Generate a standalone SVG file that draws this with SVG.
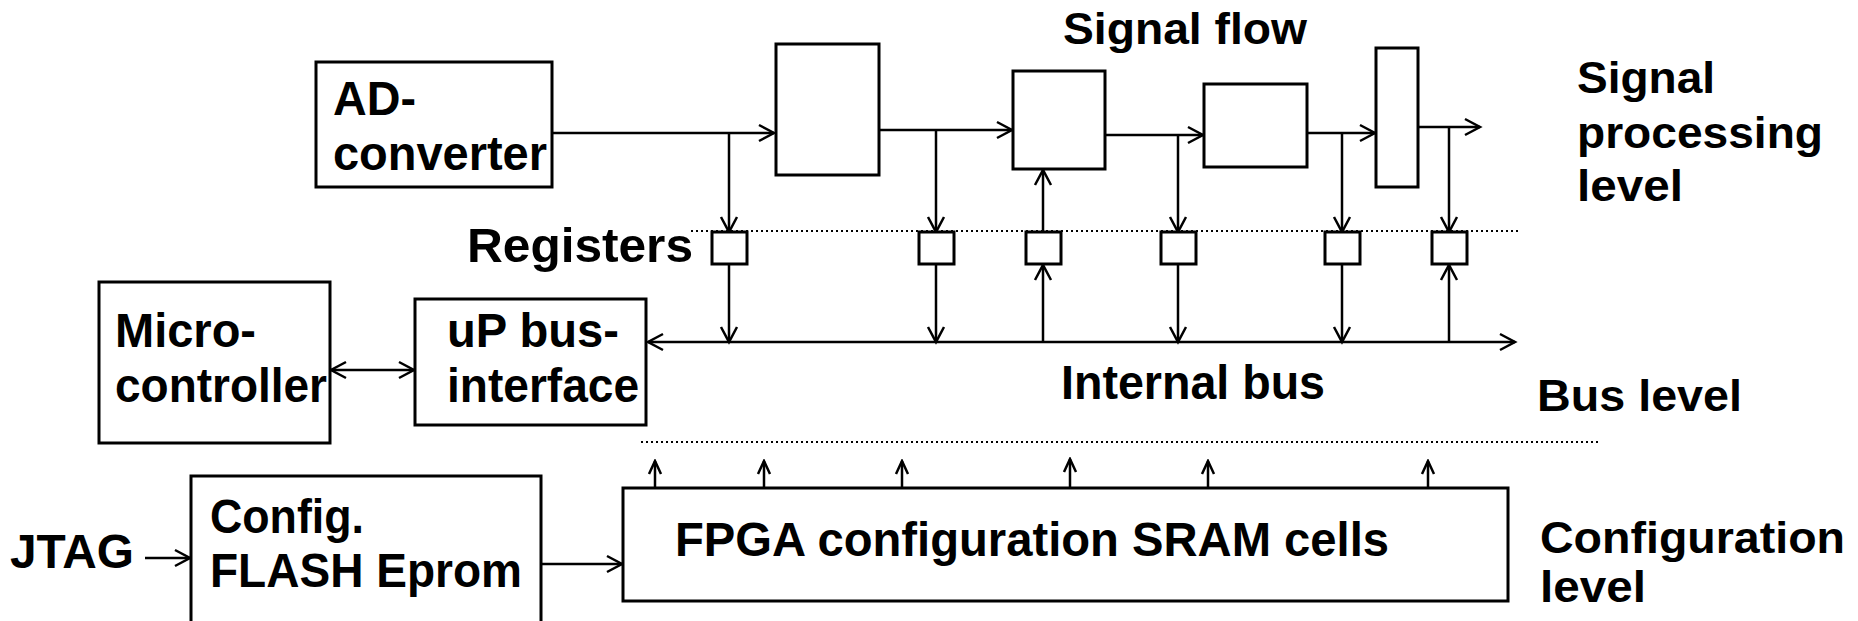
<svg xmlns="http://www.w3.org/2000/svg" width="1858" height="621" viewBox="0 0 1858 621">
  <style>
    .box { fill: #fff; stroke: #000; stroke-width: 3; }
    .reg { fill: #fff; stroke: #000; stroke-width: 3; }
    .lbl { font-family: "Liberation Sans", Arial, Helvetica, sans-serif; font-weight: bold; font-size: 45px; fill: #000; }
    .tall { font-size: 48px; }
    .wire { fill: none; stroke: #000; stroke-width: 2.5; }
    .arrow { fill: none; stroke: #000; stroke-width: 2.5; marker-end: url(#head); }
    .both { fill: none; stroke: #000; stroke-width: 2.5; marker-start: url(#head); marker-end: url(#head); }
    .up { fill: none; stroke: #000; stroke-width: 2.5; marker-end: url(#headSmall); }
    .dots { fill: none; stroke: #000; stroke-width: 2; stroke-dasharray: 2 3; }
  </style>
  <defs>
    <marker id="head" viewBox="-17 -10 20 20" refX="0" refY="0" markerWidth="20" markerHeight="20" markerUnits="userSpaceOnUse" orient="auto-start-reverse">
      <path d="M-15,-8 L0,0 L-15,8" fill="none" stroke="#000" stroke-width="2.5"/>
    </marker>
    <marker id="headSmall" viewBox="-15 -8 17 16" refX="0" refY="0" markerWidth="17" markerHeight="16" markerUnits="userSpaceOnUse" orient="auto">
      <path d="M-13,-6 L0,0 L-13,6" fill="none" stroke="#000" stroke-width="2.5"/>
    </marker>
  </defs>

  <rect width="1858" height="621" fill="#fff"/>

  <!-- level separators -->
  <g id="separators">
    <line class="dots" x1="691" y1="231" x2="1518" y2="231"/>
    <line class="dots" x1="641" y1="442" x2="1601" y2="442"/>
  </g>

  <!-- connectors -->
  <g id="connectors">
    <!-- signal path -->
    <line class="arrow" x1="552" y1="133" x2="774" y2="133"/>
    <line class="arrow" x1="879" y1="130" x2="1012" y2="130"/>
    <line class="arrow" x1="1105" y1="135" x2="1203" y2="135"/>
    <line class="arrow" x1="1307" y1="133" x2="1375" y2="133"/>
    <line class="arrow" x1="1418" y1="127" x2="1480" y2="127"/>
    <!-- taps from signal path into registers -->
    <line class="arrow" x1="729" y1="133" x2="729" y2="232"/>
    <line class="arrow" x1="936" y1="130" x2="936" y2="232"/>
    <line class="arrow" x1="1178" y1="135" x2="1178" y2="232"/>
    <line class="arrow" x1="1342" y1="133" x2="1342" y2="232"/>
    <line class="arrow" x1="1449" y1="127" x2="1449" y2="232"/>
    <!-- register feeding a processing block -->
    <line class="arrow" x1="1043" y1="232" x2="1043" y2="170"/>
    <!-- registers to / from the internal bus -->
    <line class="arrow" x1="729" y1="264" x2="729" y2="342"/>
    <line class="arrow" x1="936" y1="264" x2="936" y2="342"/>
    <line class="arrow" x1="1043" y1="342" x2="1043" y2="265"/>
    <line class="arrow" x1="1178" y1="264" x2="1178" y2="342"/>
    <line class="arrow" x1="1342" y1="264" x2="1342" y2="342"/>
    <line class="arrow" x1="1449" y1="342" x2="1449" y2="265"/>
    <!-- internal bus -->
    <line class="both" x1="648" y1="342" x2="1515" y2="342"/>
    <!-- microcontroller link -->
    <line class="both" x1="331" y1="370" x2="414" y2="370"/>
    <!-- configuration path -->
    <line class="arrow" x1="145" y1="558" x2="190" y2="558"/>
    <line class="arrow" x1="541" y1="564" x2="622" y2="564"/>
    <!-- configuration cells driving the upper levels -->
    <line class="up" x1="655" y1="488" x2="655" y2="461"/>
    <line class="up" x1="764" y1="488" x2="764" y2="461"/>
    <line class="up" x1="902" y1="488" x2="902" y2="461"/>
    <line class="up" x1="1070" y1="488" x2="1070" y2="459"/>
    <line class="up" x1="1208" y1="488" x2="1208" y2="461"/>
    <line class="up" x1="1428" y1="488" x2="1428" y2="461"/>
  </g>

  <!-- signal processing level -->
  <g id="ad-converter">
    <rect class="box" x="316" y="62" width="236" height="125"/>
    <text class="lbl tall" x="333" y="115" textLength="83" lengthAdjust="spacingAndGlyphs">AD-</text>
    <text class="lbl tall" x="333" y="170" textLength="214" lengthAdjust="spacingAndGlyphs">converter</text>
  </g>
  <g id="block-1"><rect class="box" x="776" y="44" width="103" height="131"/></g>
  <g id="block-2"><rect class="box" x="1013" y="71" width="92" height="98"/></g>
  <g id="block-3"><rect class="box" x="1204" y="84" width="103" height="83"/></g>
  <g id="block-4"><rect class="box" x="1376" y="48" width="42" height="139"/></g>

  <g id="registers">
    <rect class="reg" x="712" y="232" width="35" height="32"/>
    <rect class="reg" x="919" y="232" width="35" height="32"/>
    <rect class="reg" x="1026" y="232" width="35" height="32"/>
    <rect class="reg" x="1161" y="232" width="35" height="32"/>
    <rect class="reg" x="1325" y="232" width="35" height="32"/>
    <rect class="reg" x="1432" y="232" width="35" height="32"/>
    <text class="lbl tall" x="467" y="262" textLength="226" lengthAdjust="spacingAndGlyphs">Registers</text>
  </g>

  <!-- bus level -->
  <g id="microcontroller">
    <rect class="box" x="99" y="282" width="231" height="161"/>
    <text class="lbl tall" x="115" y="347" textLength="141" lengthAdjust="spacingAndGlyphs">Micro-</text>
    <text class="lbl tall" x="115" y="402" textLength="212" lengthAdjust="spacingAndGlyphs">controller</text>
  </g>
  <g id="bus-interface">
    <rect class="box" x="415" y="299" width="231" height="126"/>
    <text class="lbl tall" x="447" y="347" textLength="172" lengthAdjust="spacingAndGlyphs">uP bus-</text>
    <text class="lbl tall" x="447" y="402" textLength="192" lengthAdjust="spacingAndGlyphs">interface</text>
  </g>

  <!-- configuration level -->
  <g id="flash-eprom">
    <rect class="box" x="191" y="476" width="350" height="160"/>
    <text class="lbl tall" x="210" y="533" textLength="154" lengthAdjust="spacingAndGlyphs">Config.</text>
    <text class="lbl tall" x="210" y="587" textLength="312" lengthAdjust="spacingAndGlyphs">FLASH Eprom</text>
  </g>
  <g id="sram-cells">
    <rect class="box" x="623" y="488" width="885" height="113"/>
    <text class="lbl tall" x="675" y="556" textLength="714" lengthAdjust="spacingAndGlyphs">FPGA configuration SRAM cells</text>
  </g>

  <!-- free labels -->
  <g id="labels">
    <text class="lbl" x="1063" y="44" textLength="244" lengthAdjust="spacingAndGlyphs">Signal flow</text>
    <text class="lbl tall" x="1061" y="399" textLength="264" lengthAdjust="spacingAndGlyphs">Internal bus</text>
    <text class="lbl tall" x="10" y="568" textLength="124" lengthAdjust="spacingAndGlyphs">JTAG</text>
    <text class="lbl" x="1577" y="93" textLength="138" lengthAdjust="spacingAndGlyphs">Signal</text>
    <text class="lbl" x="1577" y="148" textLength="246" lengthAdjust="spacingAndGlyphs">processing</text>
    <text class="lbl" x="1577" y="201" textLength="106" lengthAdjust="spacingAndGlyphs">level</text>
    <text class="lbl" x="1537" y="411" textLength="205" lengthAdjust="spacingAndGlyphs">Bus level</text>
    <text class="lbl" x="1540" y="553" textLength="305" lengthAdjust="spacingAndGlyphs">Configuration</text>
    <text class="lbl" x="1540" y="602" textLength="106" lengthAdjust="spacingAndGlyphs">level</text>
  </g>
</svg>
